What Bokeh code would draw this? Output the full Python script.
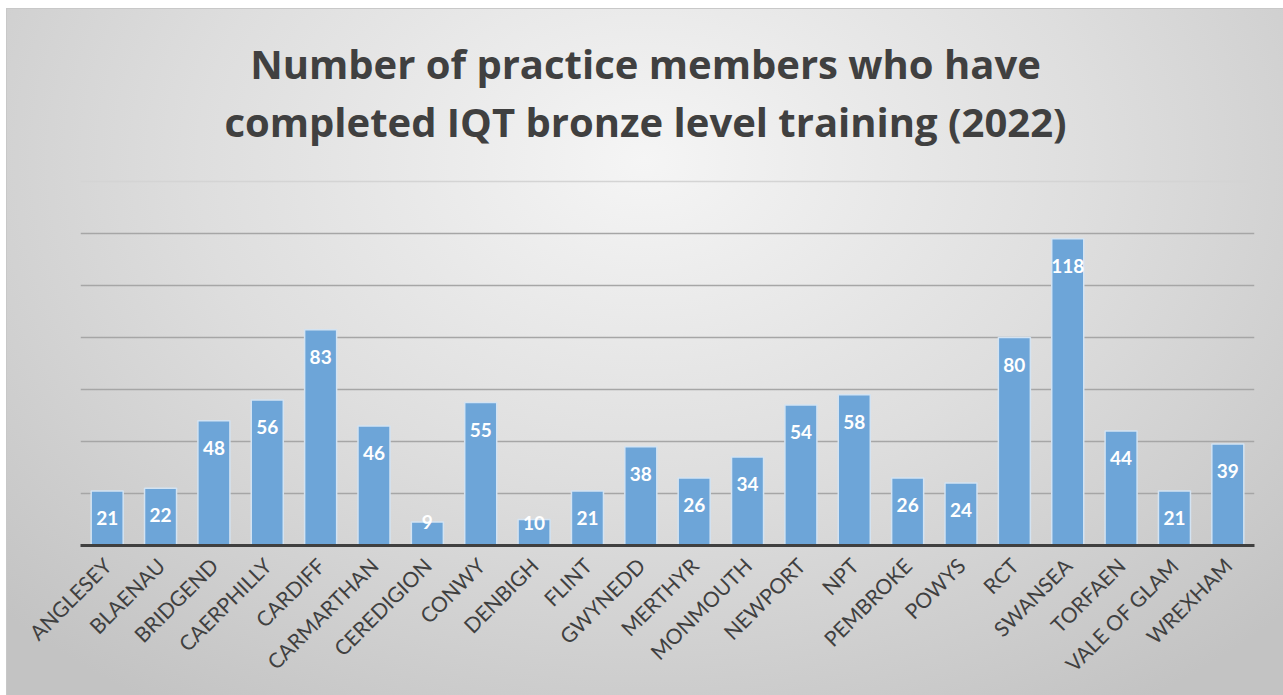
import math
from bokeh.plotting import figure
from bokeh.models import FactorRange, ColumnDataSource, Label, FixedTicker, Span
from bokeh.core.properties import value
from bokeh.embed import file_html
from bokeh.resources import INLINE

categories = ["ANGLESEY", "BLAENAU", "BRIDGEND", "CAERPHILLY", "CARDIFF", "CARMARTHAN",
              "CEREDIGION", "CONWY", "DENBIGH", "FLINT", "GWYNEDD", "MERTHYR", "MONMOUTH",
              "NEWPORT", "NPT", "PEMBROKE", "POWYS", "RCT", "SWANSEA", "TORFAEN",
              "VALE OF GLAM", "WREXHAM"]
counts = [21, 22, 48, 56, 83, 46, 9, 55, 10, 21, 38, 26, 34, 54, 58, 26, 24, 80, 118, 44, 21, 39]
title_lines = ["Number of practice members who have", "completed IQT bronze level training (2022)"]
grid_ticks = [20, 40, 60, 80, 100, 120]
y_axis_max = 140

W, H = 1276, 686
ML, MR, MB = 73, 29, 150
TOP = 9                      # page y of figure top
AXIS_Y = 545                 # page y of value 0
GRID_TOP_Y = 181             # page y of value 140
px_per_unit = (AXIS_Y - GRID_TOP_Y) / y_axis_max
y_end = (AXIS_Y - TOP) / px_per_unit

offsets = [min(27, c * px_per_unit - 23) for c in counts]
src = ColumnDataSource(dict(cat=categories, val=counts, lab=[str(c) for c in counts], off=offsets))

p = figure(x_range=FactorRange(*categories, range_padding=0), y_range=(0, y_end),
           width=W, height=H, output_backend="svg", toolbar_location=None,
           min_border_left=ML, min_border_right=MR, min_border_top=0, min_border_bottom=MB)
p.margin = (TOP, 0, 0, 7)
p.styles = {"background": "radial-gradient(ellipse 70% 95% at 50% 22%, #f5f5f5 0%, #dedede 50%, #c3c3c3 100%)",
            "outline": "1px solid #c8c8c8"}
p.background_fill_alpha = 0
p.border_fill_alpha = 0
p.outline_line_color = None

p.vbar(x="cat", top="val", width=0.6, source=src, fill_color="#6da5d8",
       line_color="#d3e3f2", line_width=1.5)

p.text(x="cat", y="val", text="lab", y_offset="off", source=src,
       text_align="center", text_baseline="middle", text_color="white",
       text_font=value("Lato"), text_font_style="bold", text_font_size="19px")

p.yaxis.visible = False
p.ygrid.ticker = FixedTicker(ticks=grid_ticks)
p.ygrid.grid_line_color = "#a6a6a6"
p.ygrid.grid_line_width = 1.5
p.ygrid.level = "underlay"
p.xgrid.grid_line_color = None
p.add_layout(Span(location=y_axis_max, dimension="width", line_color="#d4d4d4", line_width=1.5,
                  level="underlay"))

ax = p.xaxis[0]
ax.axis_line_color = "#404040"
ax.axis_line_width = 3
ax.major_tick_line_color = None
ax.minor_tick_line_color = None
ax.major_label_orientation = math.pi / 4
ax.major_label_text_font = "Lato"
ax.major_label_text_font_size = "21px"
ax.major_label_text_color = "#404040"
ax.major_label_standoff = 10

for i, line in enumerate(title_lines):
    yc_page = 63 if i == 0 else 121
    p.add_layout(Label(x=645 - 80, y=AXIS_Y - yc_page, x_units="screen", y_units="screen", text=line,
                       text_align="center", text_baseline="middle",
                       text_font="Open Sans", text_font_style="bold", text_font_size="40px",
                       text_color="#404040"))

open("out.html", "w").write(file_html(p, INLINE))
